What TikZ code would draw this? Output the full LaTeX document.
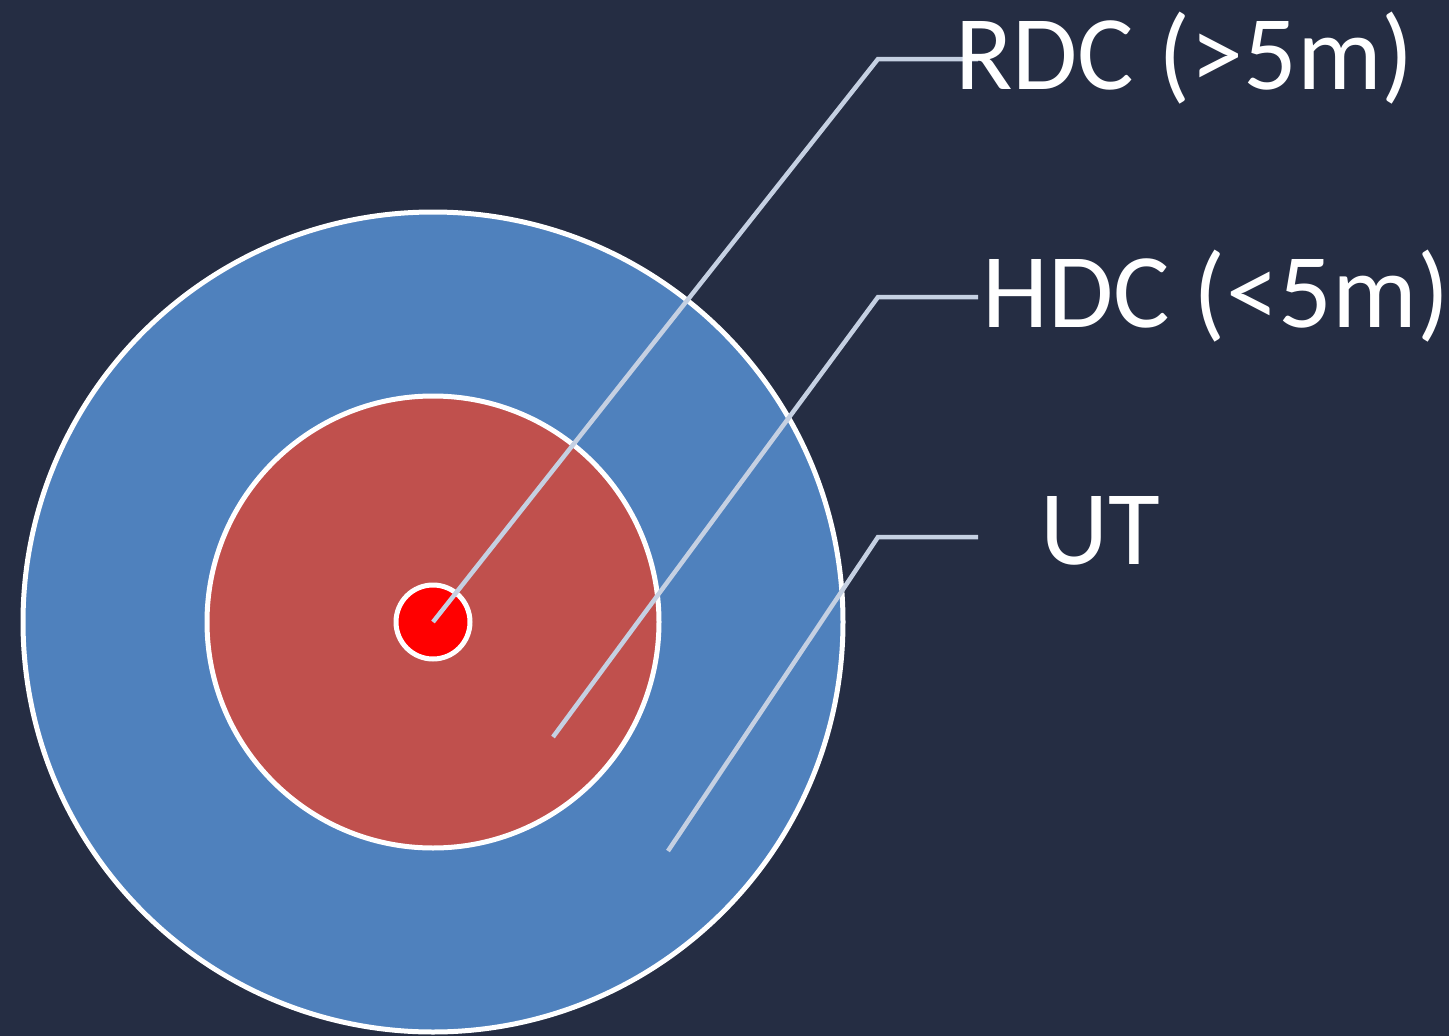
\documentclass[tikz,border=0pt]{standalone}
\usepackage{fontspec}
\setmainfont{Carlito}
\definecolor{bg}{RGB}{37,45,67}
\definecolor{outerblue}{RGB}{79,129,189}
\definecolor{innerred}{RGB}{192,80,77}
\definecolor{corered}{RGB}{255,0,0}
\definecolor{leader}{RGB}{197,208,226}
\begin{document}
\begin{tikzpicture}[x=1pt,y=-1pt,
  ring/.style={draw=white,line width=5pt},
  leaderline/.style={draw=leader,line width=4.5pt},
  lab/.style={text=white,font=\fontsize{106}{120}\selectfont,inner sep=0pt,anchor=base west}]
\useasboundingbox (0,0) rectangle (1449,1036);
\fill[bg] (0,0) rectangle (1449,1036);
\coordinate (c) at (433,622);
\path[ring,fill=outerblue] (c) circle[radius=410];
\path[ring,fill=innerred] (c) circle[radius=226];
\path[ring,fill=corered] (c) circle[radius=37];
\coordinate (a1) at (433,622);
\coordinate (a2) at (553,737);
\coordinate (a3) at (668,851);
\coordinate (k1) at (878,59);
\coordinate (k2) at (878,297);
\coordinate (k3) at (878,537);
\coordinate (e1) at (978,59);
\coordinate (e2) at (978,297);
\coordinate (e3) at (978,537);
\path[leaderline] (a1) -- (k1) -- (e1);
\path[leaderline] (a2) -- (k2) -- (e2);
\path[leaderline] (a3) -- (k3) -- (e3);
\node[lab] (rdc) at (955,89) {RDC (>5m)};
\node[lab] (hdc) at (982,327) {HDC (<5m)};
\node[lab] (ut) at (1040,564) {UT};
\end{tikzpicture}
\end{document}
